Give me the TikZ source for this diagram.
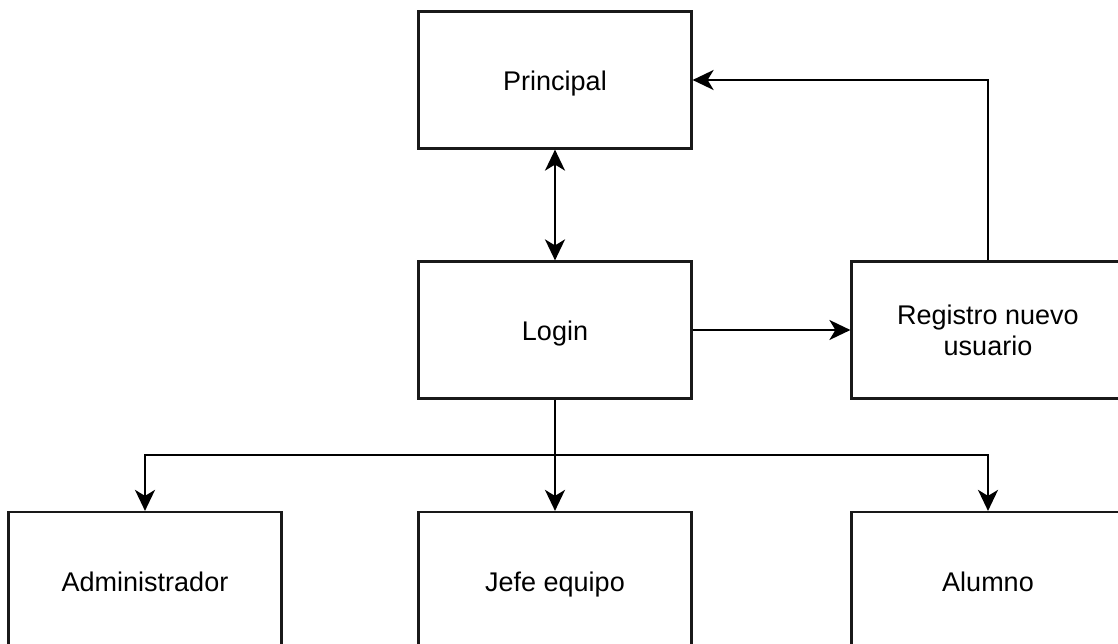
\documentclass[tikz,border=0pt]{standalone}
\usepackage{fontspec}
\setmainfont{Liberation Sans}
\usetikzlibrary{arrows.meta}
\begin{document}
\begin{tikzpicture}[x=1pt,y=-1pt,
  tip/.tip={Stealth[length=21pt, width=20pt, inset=6pt]},
  box/.style={draw=black!90, line width=2.2pt, fill=white, minimum width=273pt,
    minimum height=137pt, inner sep=0pt, align=center,
    font=\fontsize{27}{31}\selectfont},
  single/.style={box, text height=24pt, text depth=3pt},
  link/.style={draw=black, line width=2.2pt, -tip},
  both/.style={draw=black, line width=2.2pt, tip-tip}]
  \useasboundingbox (0,0) rectangle (1118,644);
  \clip (0,0) rectangle (1118,644);
  \fill[white] (0,0) rectangle (1118,644);

  % boxes
  \node[single] (principal) at (555,80) {Principal};
  \node[single] (login)     at (555,330) {Login};
  \node[box]    (registro)  at (988,330) {Registro nuevo\\usuario};
  \node[single] (admin)     at (145,580.5) {Administrador};
  \node[single] (jefe)      at (555,580.5) {Jefe equipo};
  \node[single] (alumno)    at (988,580.5) {Alumno};

  % branch point under Login
  \coordinate (split) at (555,455);

  % connectors
  \draw[both] (principal) -- (login);
  \draw[link] (login) -- (registro);
  \draw[link] (registro.north) |- (principal.east);
  \draw[line width=2.2pt] (login.south) -- (split);
  \draw[link] (split) -- (jefe.north);
  \draw[link] (split) -| (admin.north);
  \draw[link] (split) -| (alumno.north);
\end{tikzpicture}
\end{document}
